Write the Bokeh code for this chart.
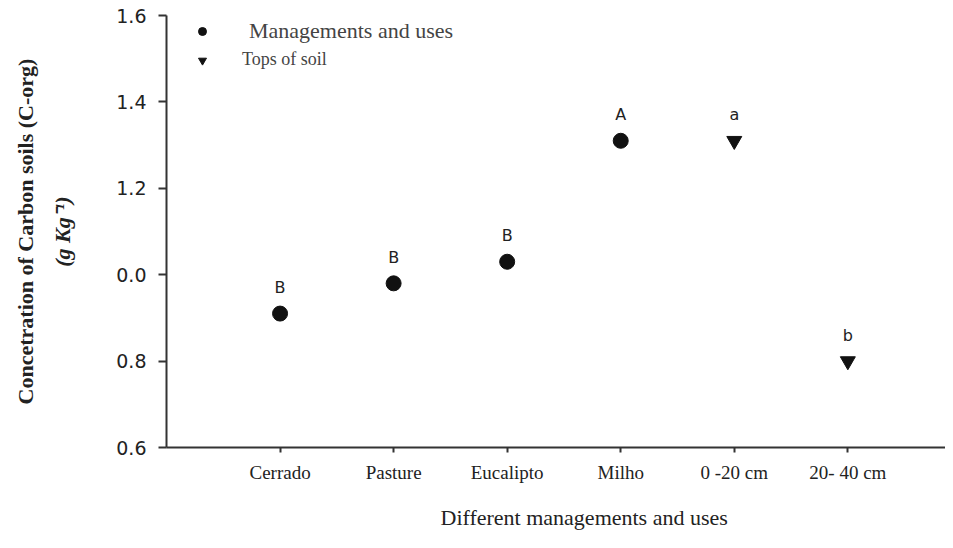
from bokeh.plotting import figure
from bokeh.models import ColumnDataSource, Legend, LegendItem, FixedTicker, Range1d, Title
from bokeh.embed import file_html
from bokeh.resources import INLINE

# ---- data ----
categories = ["Cerrado", "Pasture", "Eucalipto", "Milho", "0 -20 cm", "20- 40 cm"]
management_cats = ["Cerrado", "Pasture", "Eucalipto", "Milho"]
management_values = [0.91, 0.98, 1.03, 1.31]
management_letters = ["B", "B", "B", "A"]
soil_cats = ["0 -20 cm", "20- 40 cm"]
soil_values = [1.31, 0.80]
soil_letters = ["a", "b"]
y_ticks = [0.6, 0.8, 1.0, 1.2, 1.4, 1.6]
y_tick_labels = ["0.6", "0.8", "0.0", "1.2", "1.4", "1.6"]

pos = {c: i + 1 for i, c in enumerate(categories)}

p = figure(width=945, height=548, output_backend="svg", toolbar_location=None,
           x_range=Range1d(0, 6.86), y_range=Range1d(0.6, 1.6),
           min_border_left=166, min_border_right=0, min_border_top=15, min_border_bottom=101)
p.outline_line_color = None
p.grid.visible = False
p.background_fill_color = "white"

m_src = ColumnDataSource(dict(x=[pos[c] for c in management_cats], y=management_values,
                              t=management_letters))
s_src = ColumnDataSource(dict(x=[pos[c] for c in soil_cats], y=soil_values, t=soil_letters))

r1 = p.scatter("x", "y", source=m_src, marker="circle", size=15, color="#111111")
r2 = p.scatter("x", "y", source=s_src, marker="inverted_triangle", size=15, color="#111111")

for src in (m_src, s_src):
    p.text("x", "y", text="t", source=src, text_align="center", text_baseline="alphabetic",
           y_offset=-26, text_font_size="16px", text_font={"value": "DejaVu Sans"},
           text_color="#222222")

# axes
for ax in (p.xaxis[0], p.yaxis[0]):
    ax.axis_line_width = 2
    ax.axis_line_color = "#333333"
    ax.major_tick_line_width = 2
    ax.major_tick_line_color = "#333333"
    ax.minor_tick_line_color = None
    ax.major_tick_in = 0

p.xaxis.ticker = FixedTicker(ticks=[pos[c] for c in categories])
p.xaxis.major_label_overrides = {pos[c]: c for c in categories}
p.xaxis.major_tick_out = 5
p.xaxis.major_label_standoff = 9
p.xaxis.major_label_text_font = "Liberation Serif"
p.xaxis.major_label_text_font_size = "19px"
p.xaxis.major_label_text_color = "#222222"

p.yaxis.ticker = FixedTicker(ticks=y_ticks)
p.yaxis.major_label_overrides = {t: l for t, l in zip(y_ticks, y_tick_labels)}
p.yaxis.major_tick_out = 8
p.yaxis.major_label_standoff = 12
p.yaxis.major_label_text_font = "DejaVu Sans"
p.yaxis.major_label_text_font_size = "19px"
p.yaxis.major_label_text_color = "#222222"
# second line of the y title (inner line)
p.yaxis.axis_label = "(g Kg\u207b\u00b9)"
p.yaxis.axis_label_text_font = "Liberation Serif"
p.yaxis.axis_label_text_font_style = "bold italic"
p.yaxis.axis_label_text_font_size = "22px"
p.yaxis.axis_label_text_color = "#222222"
p.yaxis.axis_label_standoff = 38

# first line of the y title (outer line)
p.add_layout(Title(text="Concetration of Carbon soils (C-org)", align="center",
                   text_font="Liberation Serif", text_font_style="bold",
                   text_font_size="22px", text_color="#222222", standoff=19), "left")

# x title
p.add_layout(Title(text="Different managements and uses", align="left", offset=274,
                   text_font="Liberation Serif", text_font_style="normal",
                   text_font_size="22px", text_color="#222222", standoff=34), "below")

# legends
leg1 = Legend(items=[LegendItem(label="Managements and uses", renderers=[r1])],
              location=(26, 403), label_text_font="Liberation Serif",
              label_text_font_size="22px", label_standoff=37, padding=0, margin=0,
              border_line_color=None, background_fill_alpha=0, glyph_width=20, glyph_height=20,
              label_height=20, spacing=0)
leg2 = Legend(items=[LegendItem(label="Tops of soil", renderers=[r2])],
              location=(26, 377), label_text_font="Liberation Serif",
              label_text_font_size="18px", label_standoff=30, padding=0, margin=0,
              border_line_color=None, background_fill_alpha=0, glyph_width=20, glyph_height=20,
              label_height=20, spacing=0)
p.add_layout(leg1)
p.add_layout(leg2)

open("out.html", "w").write(file_html(p, INLINE))
